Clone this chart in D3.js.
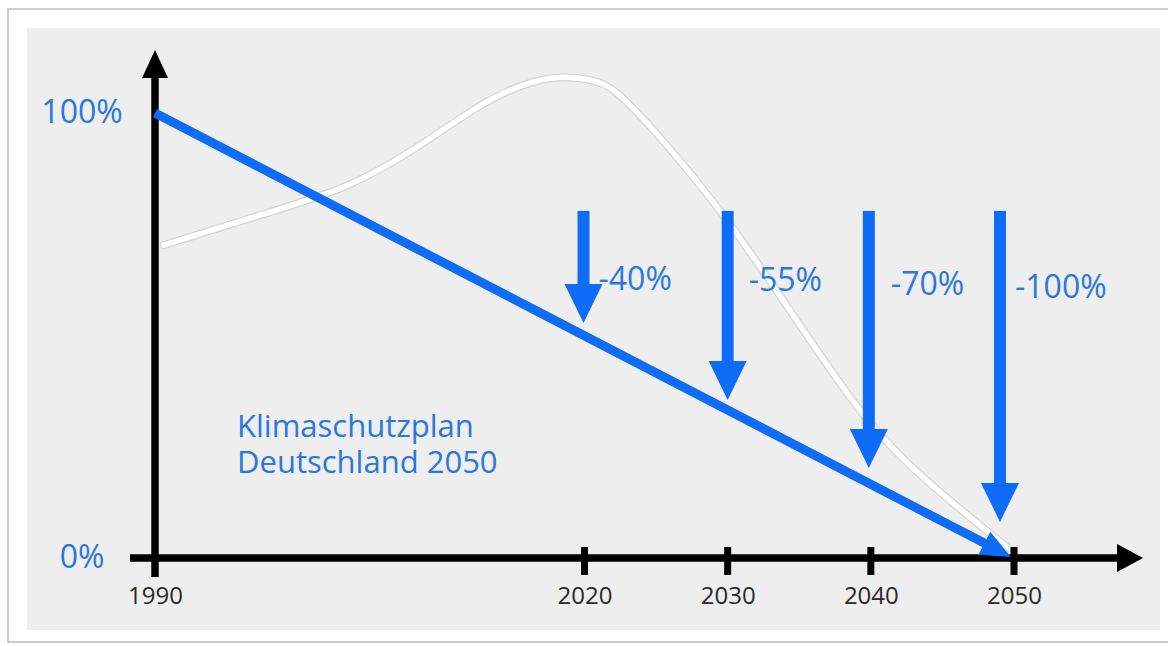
<!DOCTYPE html>
<html>
<head>
<meta charset="utf-8">
<script src="https://cdn.jsdelivr.net/npm/d3@7/dist/d3.min.js"></script>
<style>
  html, body { margin: 0; padding: 0; background: #ffffff; }
  svg { display: block; }
</style>
</head>
<body>
<svg id="chart" width="1168" height="646"></svg>
<script>
// ---------------- data ----------------
const axisYears = [1990, 2020, 2030, 2040, 2050];
const yTickValues = [0, 100];
const yTickLabels = ["0%", "100%"];

const pathYears = [1990, 2050];
const pathValues = [100, 0];

const targetYears = [2020, 2030, 2040, 2050];
const targetLabels = ["-40%", "-55%", "-70%", "-100%"];
const arrowStart = [78, 78, 78, 78];
const arrowEnd = [52.8, 35.5, 20.2, 8.1];

const curveYears = [1990.6, 1997.8, 2003.6, 2008.3, 2012.9, 2016.5, 2019.0, 2021.0, 2022.5,
  2026.7, 2030.4, 2034.8, 2039.2, 2042.7, 2047.4, 2049.6];
const curveValues = [70.3, 77.5, 83.2, 92.0, 102.6, 107.6, 108.3, 107.2, 104.6,
  89.4, 74.4, 53.5, 32.6, 20.4, 7.9, 2.2];

const titleLines = ["Klimaschutzplan", "Deutschland 2050"];

// ---------------- styles ----------------
const BLUE = "#0f6cf6";
const TEXT_BLUE = "#2a78de";
const FONT = "'Open Sans', 'Noto Sans', sans-serif";

const svg = d3.select("#chart");

// outer card + panel
svg.append("rect").attr("x", 8).attr("y", 9).attr("width", 1175).attr("height", 633)
  .attr("fill", "#ffffff").attr("stroke", "#bcbcbc").attr("stroke-width", 1.5);
svg.append("rect").attr("x", 27).attr("y", 28).attr("width", 1133).attr("height", 602)
  .attr("fill", "#eeeeee");

// scales
const x = d3.scaleLinear().domain([1990, 2050]).range([155, 1014]);
const y = d3.scaleLinear().domain([0, 100]).range([558, 113]);

// ---------------- background curve ----------------
const curvePts = curveYears.map((yr, i) => [yr, curveValues[i]]);
const curveLine = d3.line().x(d => x(d[0])).y(d => y(d[1])).curve(d3.curveBasis);
svg.append("path").attr("d", curveLine(curvePts)).attr("fill", "none")
  .attr("stroke", "#d4d4d4").attr("stroke-width", 8).attr("stroke-linecap", "round");
svg.append("path").attr("d", curveLine(curvePts)).attr("fill", "none")
  .attr("stroke", "#ffffff").attr("stroke-width", 5.5).attr("stroke-linecap", "round");

// ---------------- axes ----------------
const axisColor = "#000000";
const x0 = x(1990), yBase = y(0);
// y axis line with arrowhead
svg.append("line").attr("x1", x0).attr("x2", x0).attr("y1", yBase + 19).attr("y2", 70)
  .attr("stroke", axisColor).attr("stroke-width", 7.5);
svg.append("path").attr("d", d3.line()([[x0, 50], [x0 - 13, 78], [x0 + 13, 78]]) + "Z")
  .attr("fill", axisColor);
// x axis line with arrowhead
svg.append("line").attr("x1", 130).attr("x2", 1122).attr("y1", yBase).attr("y2", yBase)
  .attr("stroke", axisColor).attr("stroke-width", 7.5);
svg.append("path").attr("d", d3.line()([[1143, yBase], [1117, yBase - 14], [1117, yBase + 14]]) + "Z")
  .attr("fill", axisColor);
// tick marks crossing the axis
svg.selectAll("line.tick-mark").data(targetYears).enter().append("line")
  .attr("class", "tick-mark")
  .attr("x1", d => x(d)).attr("x2", d => x(d))
  .attr("y1", yBase - 11).attr("y2", yBase + 17)
  .attr("stroke", axisColor).attr("stroke-width", 7);

// year labels via d3 axis
const xAxis = d3.axisBottom(x).tickValues(axisYears).tickFormat(d3.format("d"))
  .tickSize(0).tickPadding(0);
const gx = svg.append("g").attr("transform", `translate(0, ${yBase + 38})`).call(xAxis);
gx.select(".domain").remove();
gx.selectAll("text").attr("font-family", FONT).attr("font-size", 24).attr("font-weight", 500)
  .attr("fill", "#2a2a2a").attr("dy", "0.35em");

// y labels
svg.selectAll("text.ylab").data(yTickValues).enter().append("text")
  .attr("class", "ylab")
  .attr("x", 82).attr("y", d => y(d) + 10)
  .attr("text-anchor", "middle")
  .attr("font-family", FONT).attr("font-size", 32).attr("fill", TEXT_BLUE)
  .text((d, i) => yTickLabels[i]);

// ---------------- main reduction path ----------------
const p0 = [x(pathYears[0]), y(pathValues[0])];
const p1 = [x(pathYears[1]) - 3, y(pathValues[1]) - 1];
const ang = Math.atan2(p1[1] - p0[1], p1[0] - p0[0]);
const headLen = 30, headHalf = 13;
const lineEnd = [p1[0] - Math.cos(ang) * (headLen - 2), p1[1] - Math.sin(ang) * (headLen - 2)];
svg.append("line").attr("x1", p0[0]).attr("y1", p0[1]).attr("x2", lineEnd[0]).attr("y2", lineEnd[1])
  .attr("stroke", BLUE).attr("stroke-width", 9);
const hb = [p1[0] - Math.cos(ang) * headLen, p1[1] - Math.sin(ang) * headLen];
svg.append("path").attr("d", d3.line()([
  p1,
  [hb[0] + Math.sin(ang) * headHalf, hb[1] - Math.cos(ang) * headHalf],
  [hb[0] - Math.sin(ang) * headHalf, hb[1] + Math.cos(ang) * headHalf]
]) + "Z").attr("fill", BLUE);

// ---------------- target arrows ----------------
const arrowNudge = [-1, 0, -2, -14];
const labelDx = [15, 21, 22, 15];
const labelDy = [0, 1, 5, 8];
const arrows = svg.selectAll("g.target").data(targetYears).enter().append("g").attr("class", "target");
arrows.append("rect")
  .attr("x", (d, i) => x(d) + arrowNudge[i] - 6)
  .attr("y", (d, i) => y(arrowStart[i]))
  .attr("width", 12)
  .attr("height", (d, i) => y(arrowEnd[i]) - 38 - y(arrowStart[i]) + 1)
  .attr("fill", BLUE);
arrows.append("path")
  .attr("d", (d, i) => {
    const cx = x(d) + arrowNudge[i];
    const tip = y(arrowEnd[i]);
    return d3.line()([[cx, tip], [cx - 19, tip - 39], [cx + 19, tip - 39]]) + "Z";
  })
  .attr("fill", BLUE);
arrows.append("text")
  .attr("x", (d, i) => x(d) + arrowNudge[i] + labelDx[i])
  .attr("y", (d, i) => 290 + labelDy[i])
  .attr("font-family", FONT).attr("font-size", 32).attr("fill", TEXT_BLUE)
  .text((d, i) => targetLabels[i]);

// ---------------- title text (one block, two lines) ----------------
const title = svg.append("text")
  .attr("x", 237).attr("y", 437)
  .attr("font-family", FONT).attr("font-size", 31).attr("fill", TEXT_BLUE);
title.selectAll("tspan").data(titleLines).enter().append("tspan")
  .attr("x", 237).attr("dy", (d, i) => i === 0 ? 0 : 36)
  .text(d => d);
</script>
</body>
</html>
